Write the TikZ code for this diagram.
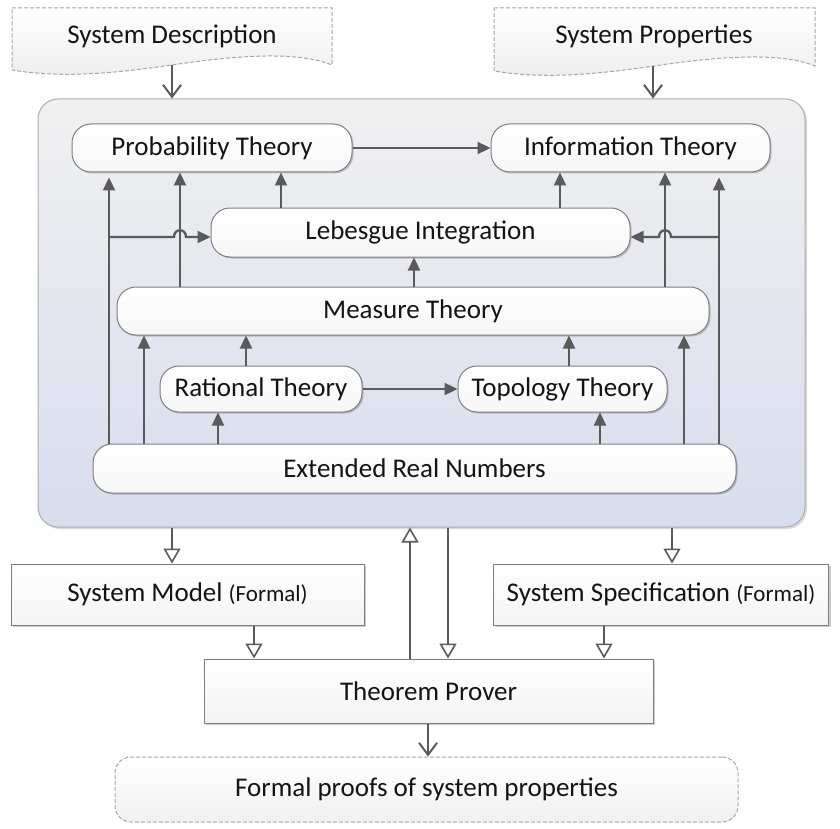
\documentclass[tikz,border=0pt]{standalone}
\usepackage{fontspec}
\setmainfont{Carlito}
\usetikzlibrary{arrows.meta,shadows,calc}
\definecolor{ln}{HTML}{5A5A5A}
\definecolor{bd}{HTML}{7F7F7F}
\definecolor{txt}{HTML}{141414}
\definecolor{ctop}{HTML}{F0F0F0}
\definecolor{cbot}{HTML}{D8DDEE}
\tikzset{
  big/.style={font=\fontsize{27}{32}\selectfont, text=txt},
  inbox/.style={big, draw=bd, line width=1pt, rounded corners=19pt, top color=white, bottom color=gray!7,
    drop shadow={shadow xshift=1.5pt, shadow yshift=-1.5pt, opacity=0.2, fill=black}, inner sep=0pt},
  sqbox/.style={big, draw=bd, line width=1pt, top color=white, bottom color=gray!9,
    drop shadow={shadow xshift=2pt, shadow yshift=-2pt, opacity=0.2, fill=black}, inner sep=0pt},
  arr/.style={draw=ln, line width=2.3pt, -{Triangle[length=13pt,width=12pt]}},
  oarr/.style={draw=ln, line width=1.8pt, -{Triangle[open,length=15pt,width=17pt,fill=white,line width=1.6pt]}},
  barr/.style={draw=ln, line width=2pt, -{Straight Barb[length=12pt,width=18pt,line width=2pt]}},
  docshape/.style={draw=gray!70, line width=1pt, dash pattern=on 4pt off 2pt, top color=white, bottom color=gray!14},
}
\begin{document}
\begin{tikzpicture}[x=1pt,y=-1pt]
\useasboundingbox (0,0) rectangle (840,829);

% document shapes
\path[docshape] (12,8) -- (332,8) -- (332,65) .. controls (300,52) and (245,54) .. (172,65) .. controls (110,74) and (60,78) .. (12,70) -- cycle;
\node[big] (sd) at (172,36) {System Description};
\coordinate (sdb) at (172,65);
\path[docshape] (494,8) -- (815,8) -- (815,66) .. controls (783,53) and (728,55) .. (654,66) .. controls (592,75) and (542,79) .. (494,71) -- cycle;
\node[big] (sp) at (654,36) {System Properties};
\coordinate (spb) at (653,66);

% container
\node[draw=gray!65, line width=1pt, rounded corners=20pt, top color=ctop, bottom color=cbot,
  minimum width=767pt, minimum height=428pt, inner sep=0pt,
  drop shadow={shadow xshift=2pt, shadow yshift=-2pt, opacity=0.15, fill=black}] (cont) at (421.5,313) {};

% inner nodes
\node[inbox, minimum width=280pt, minimum height=48pt] (pt) at (212,148) {Probability Theory};
\node[inbox, minimum width=279pt, minimum height=48pt] (it) at (630.5,148) {Information Theory};
\node[inbox, minimum width=419pt, minimum height=49pt] (li) at (420.5,232.5) {Lebesgue Integration};
\node[inbox, minimum width=592pt, minimum height=48pt] (mt) at (413,311) {Measure Theory};
\node[inbox, minimum width=202pt, minimum height=46pt] (rt) at (261,389) {Rational Theory};
\node[inbox, minimum width=209pt, minimum height=46pt] (tt) at (562.5,389) {Topology Theory};
\node[inbox, minimum width=643pt, minimum height=49pt] (ern) at (414.5,468.5) {Extended Real Numbers};

% lower nodes
\node[sqbox, minimum width=353pt, minimum height=61pt] (sm) at (187.5,594.5) {System Model {\fontsize{23}{27}\selectfont (Formal)}};
\node[sqbox, minimum width=335pt, minimum height=61pt] (ss) at (661,594.5) {System Specification {\fontsize{23}{27}\selectfont (Formal)}};
\node[sqbox, minimum width=449pt, minimum height=64pt] (tp) at (428.5,691) {Theorem Prover};
\node[big, draw=gray!70, line width=1pt, dash pattern=on 4pt off 2pt, rounded corners=16pt, top color=white, bottom color=gray!12,
  minimum width=623pt, minimum height=65pt, inner sep=0pt] (fp) at (426.5,789.5) {Formal proofs of system properties};

% x positions
\coordinate (x109) at (109,0);
\coordinate (x144) at (144,0);
\coordinate (x180) at (180,0);
\coordinate (x218) at (218,0);
\coordinate (x246) at (246,0);
\coordinate (x281) at (281,0);
\coordinate (x414) at (414,0);
\coordinate (x560) at (560,0);
\coordinate (x569) at (569,0);
\coordinate (x600) at (600,0);
\coordinate (x665) at (665,0);
\coordinate (x684) at (684,0);
\coordinate (x719) at (719,0);
\coordinate (x172) at (172,0);
\coordinate (x254) at (254,0);
\coordinate (x410) at (410,0);
\coordinate (x448) at (448,0);
\coordinate (x604) at (604,0);
\coordinate (x672) at (672,0);
\coordinate (x428) at (428,0);

% top inputs
\draw[barr] (sdb) -- (cont.north -| sdb);
\draw[barr] (spb) -- (cont.north -| spb);

% inner connectors
\draw[arr] (pt.east) -- (it.west);
\draw[arr, shorten >=5pt] (ern.north -| x109) -- (pt.south -| x109);
\draw[arr] (mt.north -| x180) -- (pt.south -| x180);
\draw[arr] (li.north -| x281) -- (pt.south -| x281);
\draw[arr] (li.north -| x560) -- (it.south -| x560);
\draw[arr] (mt.north -| x665) -- (it.south -| x665);
\draw[arr, shorten >=5pt] (ern.north -| x719) -- (it.south -| x719);
\draw[arr] (mt.north -| x414) -- (li.south -| x414);
\draw[arr] (ern.north -| x144) -- (mt.south -| x144);
\draw[arr] (rt.north -| x246) -- (mt.south -| x246);
\draw[arr] (tt.north -| x569) -- (mt.south -| x569);
\draw[arr] (ern.north -| x684) -- (mt.south -| x684);
\draw[arr] (ern.north -| x218) -- (rt.south -| x218);
\draw[arr] (ern.north -| x600) -- (tt.south -| x600);
\draw[arr] (rt.east) -- (tt.west);

% branches with hops
\coordinate (b1) at (109,237);
\coordinate (h1) at (180,237);
\draw[arr] (b1) -- ([xshift=-6pt]h1) .. controls +(0,-9) and +(0,-9) .. ([xshift=6pt]h1) -- (li.west |- b1);
\coordinate (b2) at (719,237);
\coordinate (h2) at (665,237);
\draw[arr] (b2) -- ([xshift=6pt]h2) .. controls +(0,-9) and +(0,-9) .. ([xshift=-6pt]h2) -- (li.east |- b2);

% lower connectors
\draw[oarr] (cont.south -| x172) -- (sm.north -| x172);
\draw[oarr] (cont.south -| x672) -- (ss.north -| x672);
\draw[oarr] (tp.north -| x410) -- (cont.south -| x410);
\draw[oarr] (cont.south -| x448) -- (tp.north -| x448);
\draw[oarr] (sm.south -| x254) -- (tp.north -| x254);
\draw[oarr] (ss.south -| x604) -- (tp.north -| x604);
\draw[barr] (tp.south -| x428) -- (fp.north -| x428);
\end{tikzpicture}
\end{document}
